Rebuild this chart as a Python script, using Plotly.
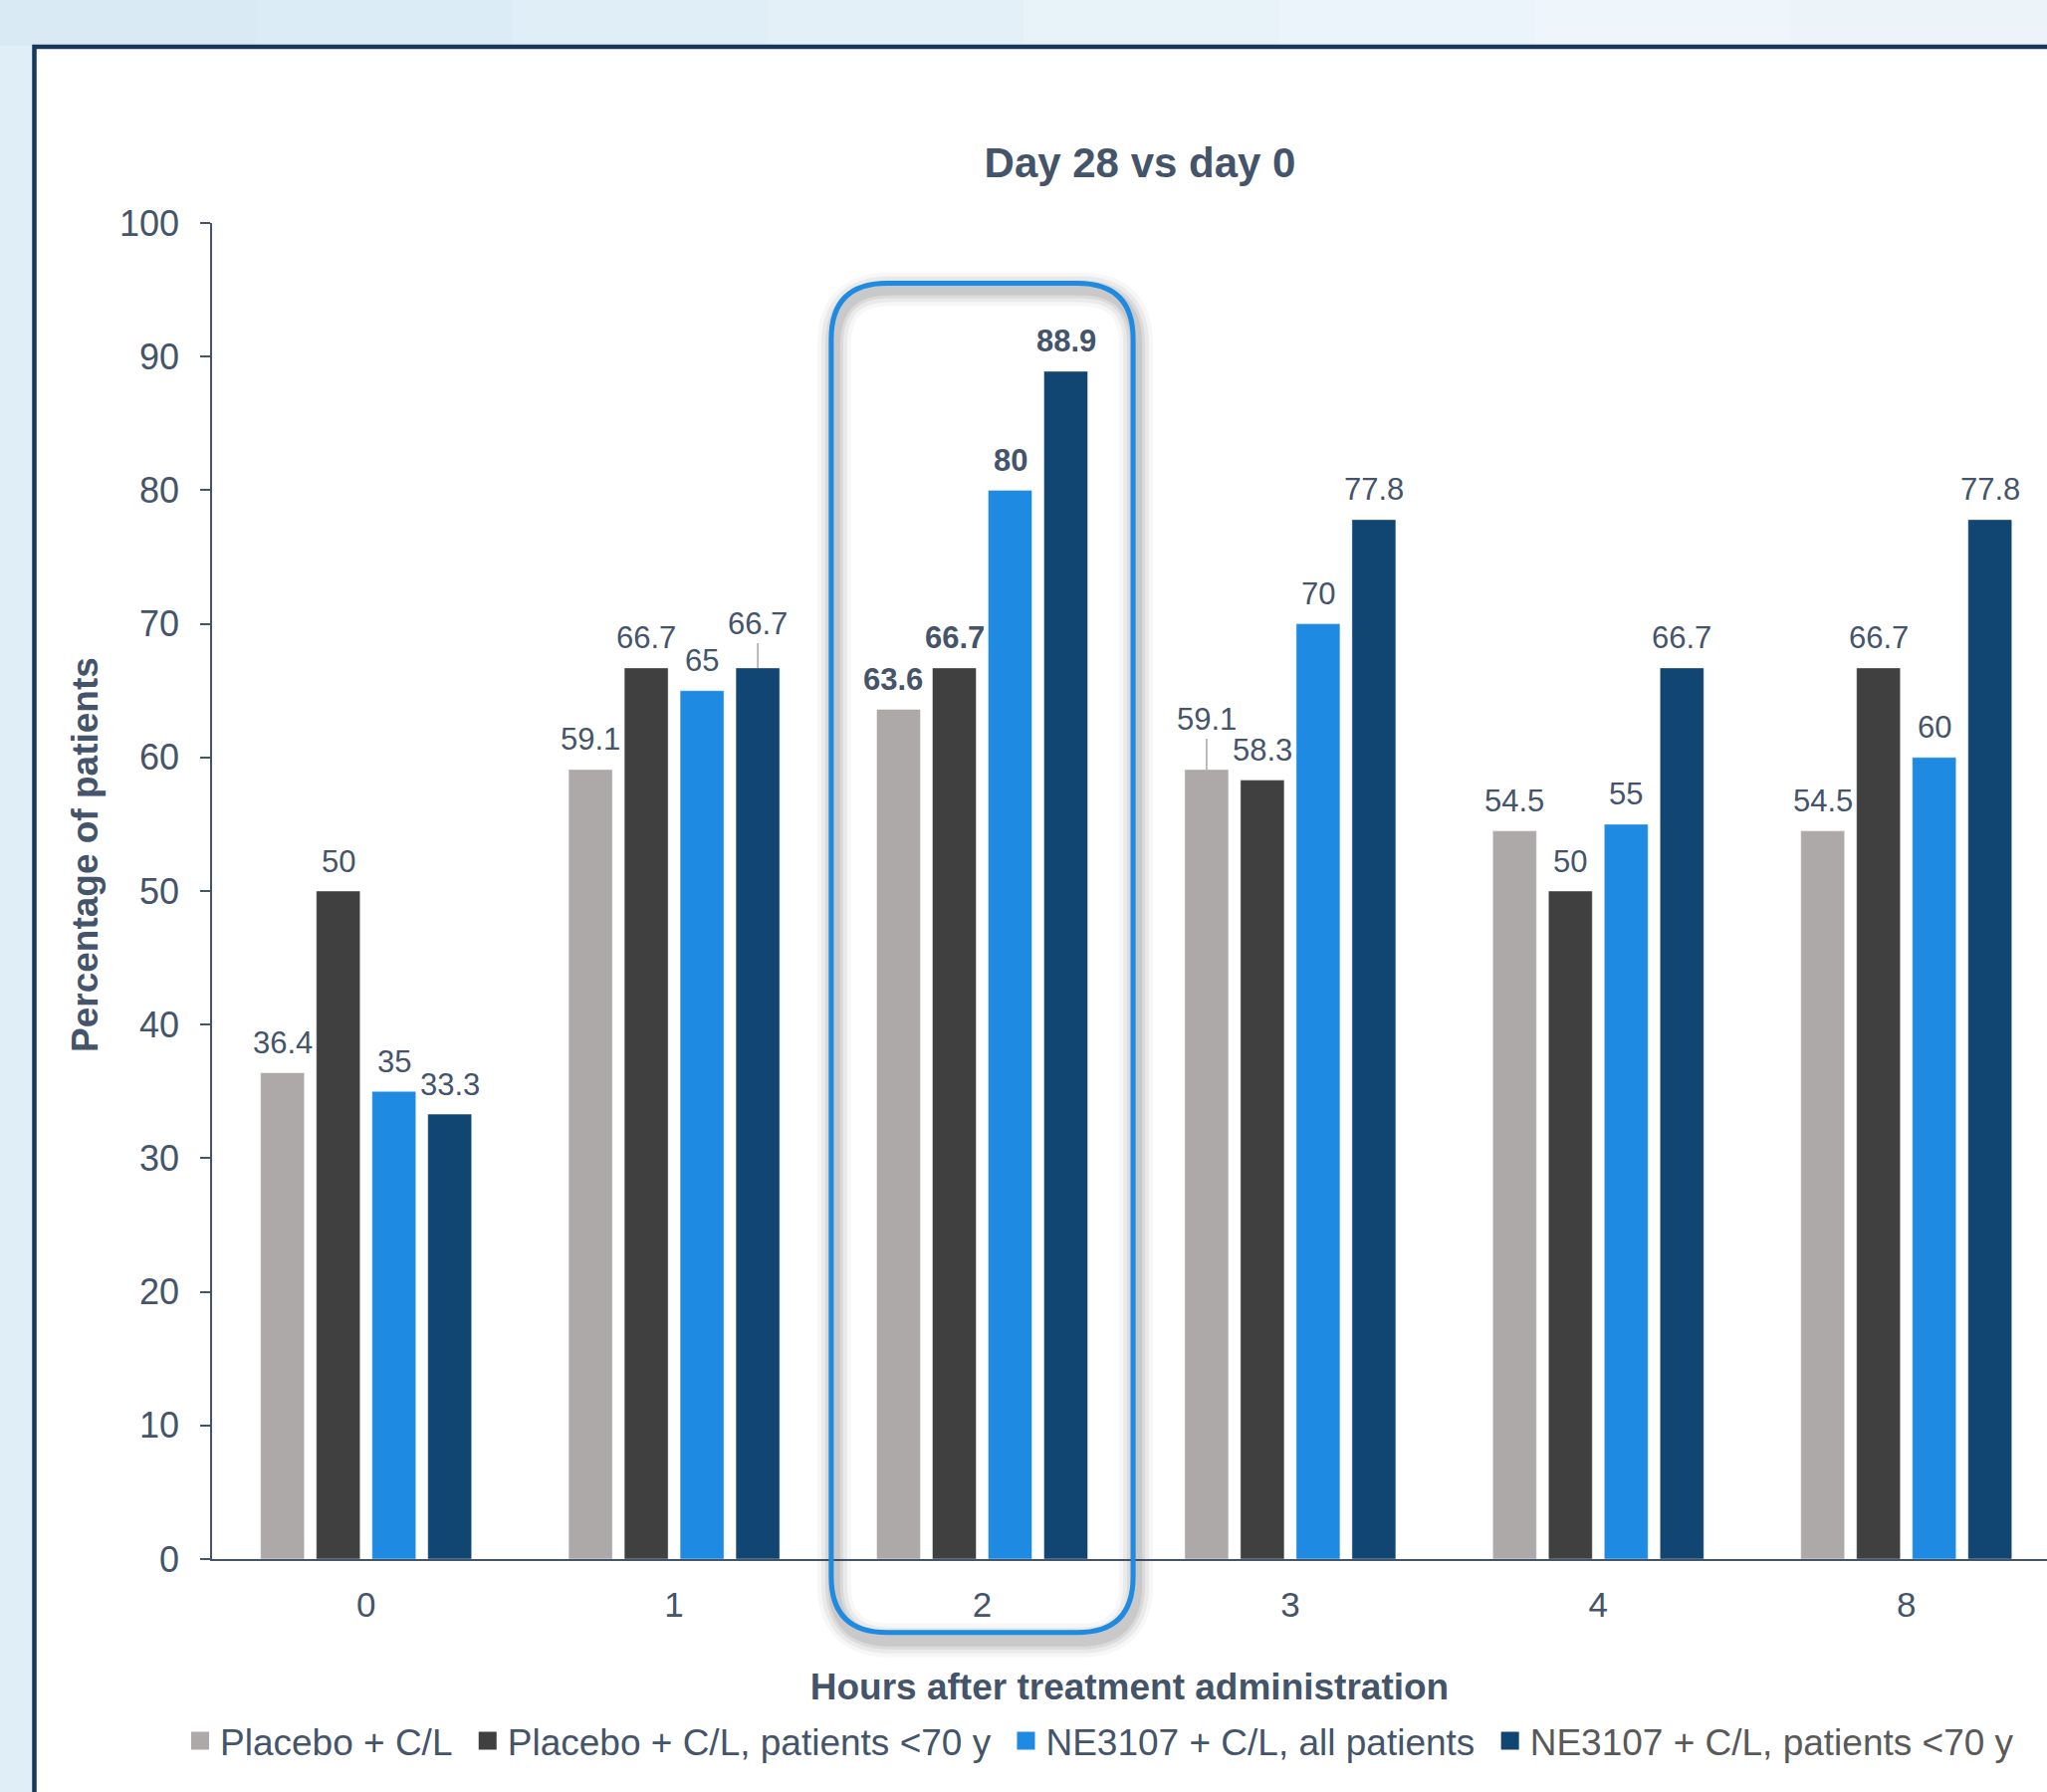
import plotly.graph_objects as go

# ---- data -------------------------------------------------------------
hours = ["0", "1", "2", "3", "4", "8"]
series_names = [
    "Placebo + C/L",
    "Placebo + C/L, patients <70 y",
    "NE3107 + C/L, all patients",
    "NE3107 + C/L, patients <70 y",
]
placebo = [36.4, 59.1, 63.6, 59.1, 54.5, 54.5]
placebo_u70 = [50, 66.7, 66.7, 58.3, 50, 66.7]
ne3107_all = [35, 65, 80, 70, 55, 60]
ne3107_u70 = [33.3, 66.7, 88.9, 77.8, 66.7, 77.8]
highlight_hour = "2"

# ---- styling ----------------------------------------------------------
FONT = "Liberation Sans, Arial, sans-serif"
TEXT = "#44546A"
colors = ["#ADA9A8", "#404040", "#1E8AE2", "#114572"]
legend_text_colors = [TEXT, TEXT, TEXT, "#595959"]

W, H = 2056, 1800
ML, MR, MT, MB = 213, 0, 224, 234
PW, PH = W - ML - MR, H - MT - MB
CAT_PX = 309.4                 # width of one category slot in pixels
X0 = -0.5
X1 = X0 + PW / CAT_PX          # right edge of the plot area, in category units
Y0, Y1 = 0, 100
BARGAP, BARGROUPGAP = 0.276, 0.214
n_series = 4

# per-label adjustments (pixels): lifted labels get a leader line
lifted = {(1, 3): 44, (3, 0): 50}
nudge_x = {(2, 0): -6}


def xpx(c):
    return ML + (c - X0) / (X1 - X0) * PW


def ypx(v):
    return MT + (Y1 - v) / (Y1 - Y0) * PH


def to_paper_x(px):
    return (px - ML) / PW


def to_paper_y(py):
    return (MT + PH - py) / PH


def bar_center(cat_idx, s_idx):
    slot = (1 - BARGAP) / n_series
    return cat_idx - (1 - BARGAP) / 2 + (s_idx + 0.5) * slot


values = [placebo, placebo_u70, ne3107_all, ne3107_u70]

fig = go.Figure()
for i, (name, vals) in enumerate(zip(series_names, values)):
    fig.add_trace(go.Bar(
        x=hours, y=vals, name=name, legendgroup=name, showlegend=False,
        marker=dict(color=colors[i], line=dict(color="rgba(255,255,255,0.45)", width=1)),
        hoverinfo="x+y+name",
    ))
    # legend entry (larger square swatch)
    pad = "&nbsp;" if i < n_series - 1 else ""
    fig.add_trace(go.Scatter(
        x=[None], y=[None], mode="markers", legendgroup=name,
        name=f'<span style="color:{legend_text_colors[i]}">{name}</span>{pad}',
        marker=dict(symbol="square", size=16, color=colors[i],
                    line=dict(color=colors[i], width=2)),
    ))

# ---- value labels -----------------------------------------------------
annotations = []
hi_idx = hours.index(highlight_hour)
for s, vals in enumerate(values):
    for c, v in enumerate(vals):
        bold = c == hi_idx
        txt = f"<b>{v:g}</b>" if bold else f"{v:g}"
        common = dict(x=bar_center(c, s), y=v, xref="x", yref="y", text=txt,
                      font=dict(family=FONT, size=31, color=TEXT))
        if (c, s) in lifted:
            annotations.append(dict(**common, showarrow=True, arrowhead=0,
                                    arrowwidth=1.5, arrowcolor="#A6A6A6",
                                    ax=0, ay=-lifted[(c, s)], standoff=0))
        else:
            annotations.append(dict(**common, showarrow=False, yanchor="middle",
                                    yshift=30, xshift=nudge_x.get((c, s), 0)))

# y-axis title, set slightly above the plot's vertical centre
annotations.append(dict(text="<b>Percentage of patients</b>", textangle=-90,
                        xref="paper", yref="paper", x=to_paper_x(85), y=to_paper_y(859),
                        xanchor="center", yanchor="middle", showarrow=False,
                        font=dict(family=FONT, size=37, color=TEXT)))

# ---- page decoration: backdrop, framed panel --------------------------
shapes = []
bands = ["#d9eaf5", "#dcecf6", "#e0eef7", "#e4f0f8", "#e8f2f9", "#ebf4fa", "#eef5fb", "#ecf4fa"]
bw = W / len(bands)
for k, col in enumerate(bands):
    shapes.append(dict(type="rect", xref="paper", yref="paper", layer="below",
                       x0=to_paper_x(k * bw), x1=to_paper_x((k + 1) * bw + 1),
                       y0=to_paper_y(0), y1=to_paper_y(46),
                       fillcolor=col, line=dict(width=0)))
shapes.append(dict(type="rect", xref="paper", yref="paper", layer="below",
                   x0=to_paper_x(34.5), x1=to_paper_x(W + 60),
                   y0=to_paper_y(47), y1=to_paper_y(H + 60),
                   fillcolor="white", line=dict(color="#17375E", width=4.5)))

# ---- rounded highlight box around the chosen hour ---------------------
bx0, bx1 = xpx(hi_idx - 0.49), xpx(hi_idx + 0.49)
by0, by1 = ypx(95.5), ypx(-5.5)
r = 56


def rounded_path(x0, y0, x1, y1, rad):
    P = lambda x, y: f"{to_paper_x(x):.5f},{to_paper_y(y):.5f}"
    return (f"M {P(x0 + rad, y0)} L {P(x1 - rad, y0)} Q {P(x1, y0)} {P(x1, y0 + rad)} "
            f"L {P(x1, y1 - rad)} Q {P(x1, y1)} {P(x1 - rad, y1)} "
            f"L {P(x0 + rad, y1)} Q {P(x0, y1)} {P(x0, y1 - rad)} "
            f"L {P(x0, y0 + rad)} Q {P(x0, y0)} {P(x0 + rad, y0)} Z")


for wdt, alpha in [(34, 0.045), (26, 0.065), (18, 0.085), (12, 0.11)]:
    shapes.append(dict(type="path", xref="paper", yref="paper", layer="above",
                       path=rounded_path(bx0 + 3, by0 + 6, bx1 + 3, by1 + 8, r),
                       line=dict(color=f"rgba(60,60,60,{alpha})", width=wdt)))
shapes.append(dict(type="path", xref="paper", yref="paper", layer="above",
                   path=rounded_path(bx0, by0, bx1, by1, r),
                   line=dict(color="#1E8AE2", width=5)))

fig.update_layout(
    width=W, height=H,
    margin=dict(l=ML, r=MR, t=MT, b=MB),
    paper_bgcolor="#e0eef7",
    plot_bgcolor="white",
    font=dict(family=FONT, color=TEXT),
    barmode="group", bargap=BARGAP, bargroupgap=BARGROUPGAP,
    title=dict(text="<b>Day 28 vs day 0</b>", font=dict(family=FONT, size=42, color=TEXT),
               xref="container", x=1145 / W, xanchor="center",
               yref="container", y=1 - 163 / H, yanchor="middle"),
    xaxis=dict(type="category", range=[X0, X1], showline=True, linecolor=TEXT,
               linewidth=1.5, ticks="", showgrid=False, zeroline=False,
               tickfont=dict(family=FONT, size=35, color=TEXT),
               ticklabelstandoff=14,
               title=dict(text="<b>Hours after treatment administration</b>",
                          font=dict(family=FONT, size=37, color=TEXT), standoff=51)),
    yaxis=dict(range=[Y0, Y1], dtick=10, showline=True, linecolor=TEXT,
               linewidth=1.5, ticks="outside", ticklen=10, tickwidth=1.5,
               tickcolor=TEXT, showgrid=False, zeroline=False,
               tickfont=dict(family=FONT, size=36, color=TEXT),
               ticklabelstandoff=14),
    legend=dict(orientation="h", xref="paper", x=to_paper_x(181), xanchor="left",
                yref="paper", y=to_paper_y(1749), yanchor="middle",
                bgcolor="rgba(0,0,0,0)", font=dict(family=FONT, size=37, color=TEXT),
                itemclick=False),
    annotations=annotations,
    shapes=shapes,
    showlegend=True,
)

fig.write_html("out.html")
